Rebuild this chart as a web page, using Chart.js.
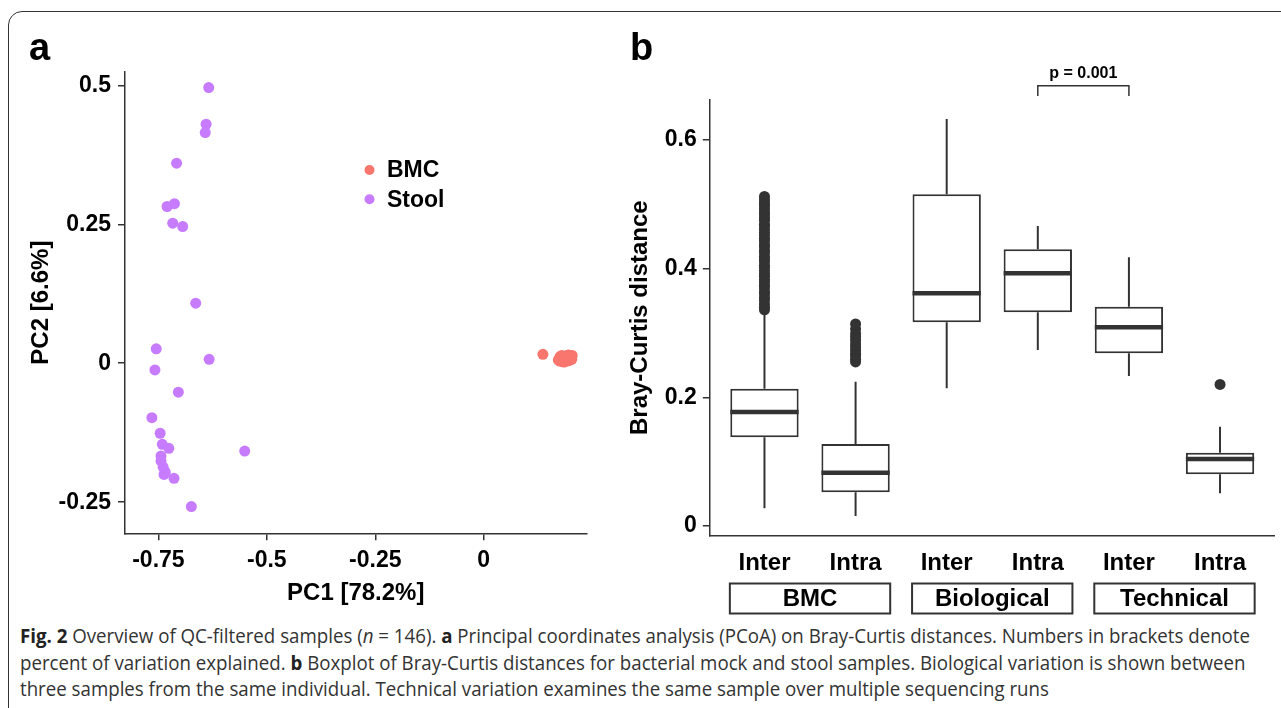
<!DOCTYPE html>
<html>
<head>
<meta charset="utf-8">
<script src="https://cdn.jsdelivr.net/npm/chart.js@4.4.0/dist/chart.umd.min.js"></script>
<style>
  html, body { margin: 0; padding: 0; background: #fff; }
  body { width: 1281px; height: 708px; position: relative; overflow: hidden; }
  #frame { position: absolute; left: 8px; top: 11px; width: 1300px; height: 730px;
           border: 1.5px solid #333; border-radius: 14px; box-sizing: border-box; }
  #pcoa { position: absolute; left: 0; top: 0; }
  #braycurtis { position: absolute; left: 600px; top: 0; }
  #caption { position: absolute; left: 20px; top: 623px; font-family: "Open Sans", sans-serif;
             font-size: 20px; line-height: 26.5px; color: #333; white-space: nowrap; transform-origin: 0 0; }
  #caption b { color: #222; }
</style>
</head>
<body>
<div id="frame"></div>
<canvas id="pcoa" width="600" height="620"></canvas>
<canvas id="braycurtis" width="681" height="620"></canvas>
<div id="caption">
  <div><span id="capLine1"><b>Fig. 2</b> Overview of QC-filtered samples (<i>n</i> = 146). <b>a</b> Principal coordinates analysis (PCoA) on Bray-Curtis distances. Numbers in brackets denote</span></div>
  <div>percent of variation explained. <b>b</b> Boxplot of Bray-Curtis distances for bacterial mock and stool samples. Biological variation is shown between</div>
  <div>three samples from the same individual. Technical variation examines the same sample over multiple sequencing runs</div>
</div>
<script>
// ---- panel a: PCoA ----
const bmcPC1 = [0.1365, 0.172, 0.175, 0.178, 0.181, 0.184, 0.187, 0.190, 0.193, 0.196, 0.199, 0.202, 0.204, 0.176, 0.180,
                0.185, 0.189, 0.192, 0.195, 0.198, 0.201, 0.203, 0.179, 0.183, 0.188, 0.194, 0.197, 0.200, 0.191, 0.186];
const bmcPC2 = [0.016, 0.006, 0.004, 0.009, 0.003, 0.011, 0.005, 0.013, 0.008, 0.012, 0.006, 0.010, 0.014, 0.012, 0.014,
                0.002, 0.010, 0.004, 0.015, 0.009, 0.013, 0.007, 0.007, 0.008, 0.012, 0.011, 0.005, 0.012, 0.006, 0.009];
const stoolPC1 = [-0.634, -0.640, -0.642, -0.708, -0.730, -0.713, -0.717, -0.694, -0.664, -0.755, -0.633, -0.758, -0.704,
                  -0.765, -0.746, -0.741, -0.726, -0.744, -0.744, -0.739, -0.734, -0.737, -0.714, -0.551, -0.674];
const stoolPC2 = [0.496, 0.430, 0.415, 0.360, 0.282, 0.287, 0.252, 0.246, 0.108, 0.026, 0.007, -0.012, -0.052,
                  -0.098, -0.126, -0.146, -0.153, -0.167, -0.176, -0.187, -0.196, -0.200, -0.207, -0.158, -0.258];
const pc1Ticks = [-0.75, -0.5, -0.25, 0];
const pc2Ticks = [-0.25, 0, 0.25, 0.5];

// ---- panel b: Bray-Curtis boxplots ----
const comparisons = ['Inter', 'Intra', 'Inter', 'Intra', 'Inter', 'Intra'];
const groupNames = ['BMC', 'Biological', 'Technical'];
const whiskerLow = [0.0275, 0.0155, 0.214, 0.2735, 0.233, 0.0508];
const quart1 = [0.138, 0.0523, 0.3165, 0.332, 0.2684, 0.0803];
const medians = [0.177, 0.0829, 0.3616, 0.3927, 0.3088, 0.1041];
const quart3 = [0.2134, 0.1274, 0.5154, 0.430, 0.3408, 0.1139];
const whiskerHigh = [0.333, 0.2243, 0.6325, 0.466, 0.4175, 0.1543];
const outBmcInter = [0.336, 0.340, 0.345, 0.351, 0.355, 0.361, 0.364, 0.370, 0.374, 0.379, 0.383, 0.388, 0.392, 0.397,
                     0.402, 0.405, 0.411, 0.415, 0.419, 0.425, 0.428, 0.434, 0.437, 0.443, 0.447, 0.452, 0.456, 0.461,
                     0.466, 0.469, 0.475, 0.479, 0.484, 0.488, 0.493, 0.498, 0.502, 0.507, 0.512];
const outBmcIntra = [0.255, 0.259, 0.264, 0.268, 0.273, 0.278, 0.283, 0.289, 0.294, 0.299, 0.306, 0.314];
const outTechIntra = [0.220];
const bcTicks = [0, 0.2, 0.4, 0.6];
const pLabel = 'p = 0.001';
const pPair = [4, 5];

const FONT = '"Liberation Sans", Arial, sans-serif';
const INK = '#333333';
const tickFont = { family: FONT, size: 23, weight: 'bold' };
const titleFont = { family: FONT, size: 24, weight: 'bold' };

function fmt(v) { return String(Math.round(v * 100) / 100); }

function axisStyle() {
  return {
    grid: { drawOnChartArea: false, drawTicks: true, tickLength: 7, color: INK, lineWidth: 1.5 },
    border: { display: true, color: INK, width: 1.5 },
    ticks: { font: tickFont, color: '#000', padding: 7, callback: fmt }
  };
}

const panelA = {
  id: 'panelA',
  afterDraw(chart) {
    const ctx = chart.ctx;
    ctx.save();
    ctx.fillStyle = '#000';
    ctx.font = 'bold 38px ' + FONT;
    ctx.textBaseline = 'alphabetic';
    ctx.fillText('a', 29, 60);
    // legend
    ctx.font = 'bold 23px ' + FONT;
    ctx.textBaseline = 'middle';
    chart.data.datasets.forEach(function(ds, i) {
      const y = 170 + i * 29.3;
      ctx.fillStyle = ds.backgroundColor;
      ctx.beginPath();
      ctx.arc(369.5, y, 5, 0, Math.PI * 2);
      ctx.fill();
      ctx.fillStyle = '#000';
      ctx.fillText(ds.label, 387, y + 1);
    });
    ctx.restore();
  }
};

const xA = Object.assign(axisStyle(), {
  type: 'linear', min: -0.827, max: 0.237,
  afterBuildTicks: function(s) { s.ticks = pc1Ticks.map(function(v) { return { value: v }; }); },
  afterFit: function(s) { s.height = 86.7; },
  title: { display: true, text: 'PC1 [78.2%]', font: titleFont, color: '#000', padding: { top: 0, bottom: 12 } }
});
const yA = Object.assign(axisStyle(), {
  type: 'linear', min: -0.306, max: 0.524,
  afterBuildTicks: function(s) { s.ticks = pc2Ticks.map(function(v) { return { value: v }; }); },
  afterFit: function(s) { s.width = 125; },
  title: { display: true, text: 'PC2 [6.6%]', font: titleFont, color: '#000', padding: { top: 27, bottom: 0 } }
});

new Chart(document.getElementById('pcoa'), {
  type: 'scatter',
  data: {
    datasets: [
      { label: 'BMC', data: bmcPC1.map(function(x, i) { return { x: x, y: bmcPC2[i] }; }),
        backgroundColor: '#F8766D', borderWidth: 0, pointRadius: 5.5 },
      { label: 'Stool', data: stoolPC1.map(function(x, i) { return { x: x, y: stoolPC2[i] }; }),
        backgroundColor: '#C77CFF', borderWidth: 0, pointRadius: 5.5 }
    ]
  },
  options: {
    responsive: false, animation: false,
    layout: { padding: { left: 0, top: 72, right: 13.5, bottom: 0 } },
    plugins: { legend: { display: false }, tooltip: { enabled: false } },
    scales: { x: xA, y: yA }
  },
  plugins: [panelA]
});

// ---- panel b chart ----
const whiskerPts = [];
comparisons.forEach(function(c, i) {
  const x = i + 1;
  whiskerPts.push({ x: x, y: quart3[i] }, { x: x, y: whiskerHigh[i] }, { x: x, y: null });
  whiskerPts.push({ x: x, y: whiskerLow[i] }, { x: x, y: quart1[i] }, { x: x, y: null });
});
const medianPts = [];
comparisons.forEach(function(c, i) {
  const x = i + 1;
  medianPts.push({ x: x - 0.375, y: medians[i] }, { x: x + 0.375, y: medians[i] }, { x: x, y: null });
});
const outlierPts = []
  .concat(outBmcInter.map(function(v) { return { x: 1, y: v }; }))
  .concat(outBmcIntra.map(function(v) { return { x: 2, y: v }; }))
  .concat(outTechIntra.map(function(v) { return { x: 6, y: v }; }));
const bracketTop = 0.684, bracketFoot = 0.668;
const bracketPts = [
  { x: pPair[0], y: bracketFoot }, { x: pPair[0], y: bracketTop },
  { x: pPair[1], y: bracketTop }, { x: pPair[1], y: bracketFoot }
];

const panelB = {
  id: 'panelB',
  afterDraw(chart) {
    const ctx = chart.ctx;
    const xs = chart.scales.x, ys = chart.scales.y;
    ctx.save();
    ctx.fillStyle = '#000';
    ctx.font = 'bold 38px ' + FONT;
    ctx.textBaseline = 'alphabetic';
    ctx.fillText('b', 30, 60);
    // p value
    ctx.font = 'bold 16px ' + FONT;
    ctx.textAlign = 'center';
    ctx.fillText(pLabel, xs.getPixelForValue((pPair[0] + pPair[1]) / 2), ys.getPixelForValue(bracketTop) - 8);
    // group strips
    ctx.font = 'bold 24px ' + FONT;
    ctx.textBaseline = 'middle';
    ctx.strokeStyle = INK;
    ctx.lineWidth = 2;
    groupNames.forEach(function(g, i) {
      const left = xs.getPixelForValue(2 * i + 1 - 0.38);
      const right = xs.getPixelForValue(2 * i + 2 + 0.38);
      ctx.strokeRect(left, 583.5, right - left, 30);
      ctx.fillStyle = '#000';
      ctx.fillText(g, (left + right) / 2, 599.5);
    });
    ctx.restore();
  }
};

const xB = Object.assign(axisStyle(), {
  type: 'linear', min: 0.4, max: 6.6, offset: false,
  afterBuildTicks: function(s) { s.ticks = comparisons.map(function(c, i) { return { value: i + 1 }; }); },
  afterFit: function(s) { s.height = 84; },
  title: { display: false }
});
xB.grid = { drawOnChartArea: false, drawTicks: false, color: INK };
xB.ticks = { font: { family: FONT, size: 24, weight: 'bold' }, color: '#000', padding: 13,
             callback: function(v) { return comparisons[Math.round(v) - 1]; } };
const yB = Object.assign(axisStyle(), {
  type: 'linear', min: -0.0155, max: 0.663,
  afterBuildTicks: function(s) { s.ticks = bcTicks.map(function(v) { return { value: v }; }); },
  afterFit: function(s) { s.width = 109.8; },
  title: { display: true, text: 'Bray-Curtis distance', font: titleFont, color: '#000', padding: { top: 26, bottom: 0 } }
});
yB.grid.tickLength = 7;
yB.ticks.padding = 6;

new Chart(document.getElementById('braycurtis'), {
  type: 'bar',
  data: {
    datasets: [
      { type: 'line', data: whiskerPts, borderColor: INK, borderWidth: 2, pointRadius: 0, spanGaps: false, order: 3 },
      { type: 'bar', data: comparisons.map(function(c, i) { return { x: i + 1, y: [quart1[i], quart3[i]] }; }),
        backgroundColor: '#ffffff', borderColor: INK, borderWidth: 2, borderSkipped: false,
        barPercentage: 0.75, categoryPercentage: 1, order: 2 },
      { type: 'line', data: medianPts, borderColor: INK, borderWidth: 4.5, pointRadius: 0, spanGaps: false, order: 1 },
      { type: 'scatter', data: outlierPts, backgroundColor: INK, borderWidth: 0, pointRadius: 5.5, order: 0 },
      { type: 'line', data: bracketPts, borderColor: INK, borderWidth: 1.5, pointRadius: 0, clip: false, order: 0 }
    ]
  },
  options: {
    responsive: false, animation: false,
    layout: { padding: { left: 0, top: 99.3, right: 6.3, bottom: 0 } },
    plugins: { legend: { display: false }, tooltip: { enabled: false } },
    scales: { x: xB, y: yB }
  },
  plugins: [panelB]
});

// fit caption width to the figure
const cap = document.getElementById('caption');
const w = document.getElementById('capLine1').getBoundingClientRect().width;
cap.style.transform = 'scaleX(' + (1230 / w) + ')';
</script>
</body>
</html>
